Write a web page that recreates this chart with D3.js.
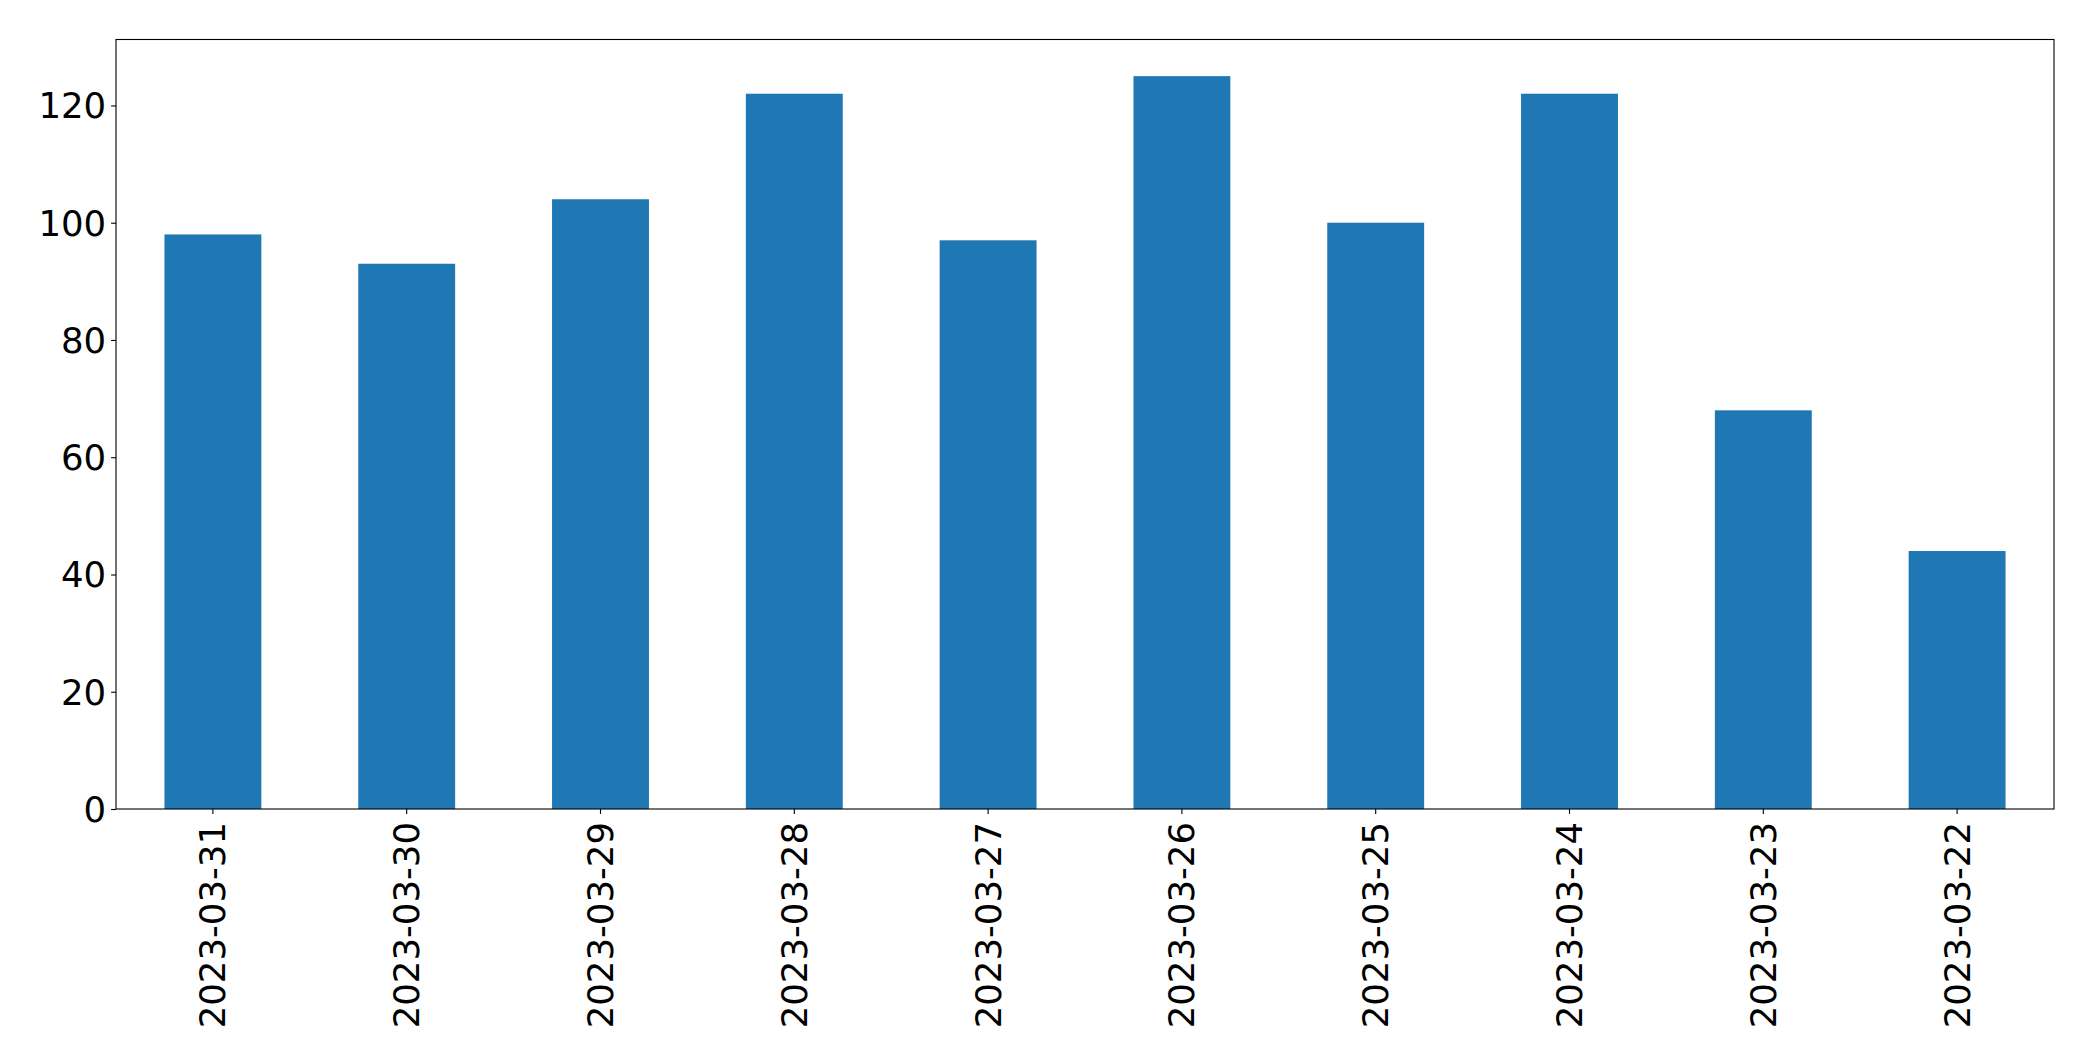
<!DOCTYPE html>
<html>
<head>
<meta charset="utf-8">
<script src="https://cdn.jsdelivr.net/npm/d3@7"></script>
<style>
  body { margin: 0; background: #fff; }
  svg text { font-family: "DejaVu Sans", sans-serif; fill: #000; }
</style>
</head>
<body>
<svg class="chart"></svg>
<script>
const dates = ["2023-03-31", "2023-03-30", "2023-03-29", "2023-03-28", "2023-03-27",
               "2023-03-26", "2023-03-25", "2023-03-24", "2023-03-23", "2023-03-22"]
const counts = [98, 93, 104, 122, 97, 125, 100, 122, 68, 44]
const yTicks = [0, 20, 40, 60, 80, 100, 120]

var margin = {top: 39.5, right: 39, bottom: 252, left: 116}
  , width = 2093 - margin.left - margin.right
  , height = 1061 - margin.top - margin.bottom;

var svg = d3.select(".chart")
    .attr("width", 2093)
    .attr("height", 1061)

var graph = svg.append("g")
    .attr("transform", "translate(" + margin.left + "," + margin.top + ")")

var xScale = d3.scaleBand()
    .domain(dates)
    .range([0, width])
    .paddingInner(0.5)
    .paddingOuter(0.25)

var yScale = d3.scaleLinear()
    .domain([0, d3.max(counts) * 1.05])
    .range([height, 0])

graph.selectAll(".bar")
    .data(dates)
    .enter().append("rect")
    .attr("class", "bar")
    .attr("x", d => xScale(d))
    .attr("width", xScale.bandwidth())
    .attr("y", (d, i) => yScale(counts[i]))
    .attr("height", (d, i) => height - yScale(counts[i]))
    .attr("fill", "#1f77b4")

// y axis
var yAxis = graph.append("g")
    .call(d3.axisLeft(yScale)
        .tickValues(yTicks)
        .tickSize(4.9)
        .tickPadding(4.9))
yAxis.select(".domain").remove()
yAxis.selectAll("line").attr("stroke", "#000").attr("stroke-width", 1.1)
yAxis.selectAll("text")
    .style("font-size", "35.5px")
    .attr("dy", "0.35em")

// x axis
var xAxis = graph.append("g")
    .attr("transform", "translate(0," + height + ")")
    .call(d3.axisBottom(xScale)
        .tickSize(4.9)
        .tickPadding(4.9))
xAxis.select(".domain").remove()
xAxis.selectAll("line").attr("stroke", "#000").attr("stroke-width", 1.1)
xAxis.selectAll("text")
    .style("font-size", "35.5px")
    .attr("text-anchor", "end")
    .attr("dy", "0.35em")
    .attr("x", 0)
    .attr("y", 0)
    .attr("transform", "translate(0,13) rotate(-90)")

// frame
graph.append("rect")
    .attr("x", 0)
    .attr("y", 0)
    .attr("width", width)
    .attr("height", height)
    .attr("fill", "none")
    .attr("stroke", "#000")
    .attr("stroke-width", 1.1)
</script>
</body>
</html>
